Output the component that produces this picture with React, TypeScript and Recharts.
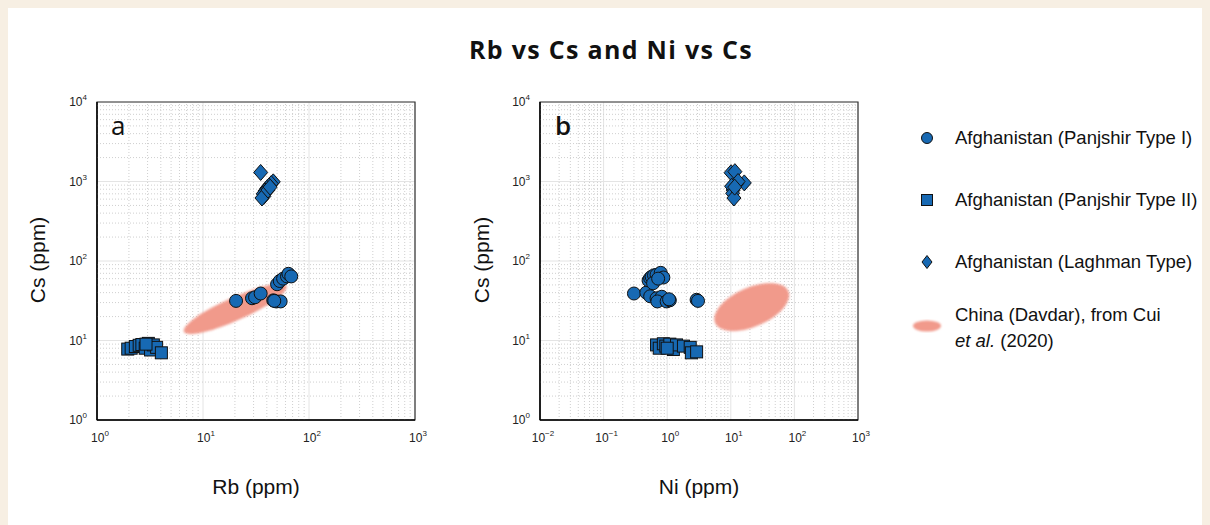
import React from 'react';
import {
  ScatterChart,
  Scatter,
  XAxis,
  YAxis,
  CartesianGrid,
  ReferenceLine,
  ReferenceArea,
} from 'recharts';

const BLUE = '#1769B3';
const EDGE = '#111111';
const SALMON = '#F19A8B';
const FONT = '"Liberation Sans", Arial, sans-serif';

// panel a: Rb (ppm) vs Cs (ppm)
const TYPE1_RB_CS: [number, number][] = [
  [20.5, 31.5], [29, 34], [31, 35], [35, 39], [46, 32], [49, 31], [54, 31],
  [47, 31.5], [50, 51], [53, 56], [57, 60], [62, 64], [64, 69], [68, 64],
];
const TYPE2_RB_CS: [number, number][] = [
  [1.95, 7.8], [2.1, 8.0], [2.3, 8.4], [2.5, 8.7], [2.65, 8.9], [2.85, 8.0],
  [3.05, 9.2], [3.2, 7.6], [3.4, 8.8], [3.65, 8.2], [4.05, 7.0], [2.9, 9.0],
];
const LAGHMAN_RB_CS: [number, number][] = [
  [35, 1300], [46, 990], [44, 940], [42, 880], [40, 820], [38.5, 760],
  [37, 700], [37.5, 650], [36, 620], [41, 780], [43, 850],
];
// Davdar field: major-axis ends, then minor-axis ends
const DAVDAR_RB_CS: [number, number][] = [
  [6.6, 12.9], [61.3, 48.5], [22.3, 18.5], [18.2, 33.9],
];

// panel b: Ni (ppm) vs Cs (ppm)
const TYPE1_NI_CS: [number, number][] = [
  [0.3, 39], [0.47, 40], [0.54, 36], [0.68, 34], [0.82, 35.5], [0.7, 31],
  [0.98, 31], [1.1, 32], [1.07, 33], [2.9, 32.5], [3.05, 31.5], [0.51, 57],
  [0.54, 61], [0.57, 63.5], [0.62, 66], [0.68, 67], [0.79, 71], [0.87, 62],
  [0.6, 52.5], [0.72, 60],
];
const TYPE2_NI_CS: [number, number][] = [
  [0.68, 8.8], [0.75, 8.0], [0.87, 9.1], [0.95, 8.5], [1.1, 9.0], [1.25, 7.7],
  [1.4, 8.8], [1.8, 8.5], [2.3, 8.2], [2.4, 7.0], [2.9, 7.2], [1.0, 8.0],
];
const LAGHMAN_NI_CS: [number, number][] = [
  [10.1, 1290], [11.6, 1330], [16.3, 960], [12.4, 940], [13, 1000],
  [10.9, 780], [10.3, 870], [10.7, 710], [11.2, 620], [11.5, 850],
];
const DAVDAR_NI_CS: [number, number][] = [
  [5.65, 16.6], [80.5, 41.8], [28.3, 15.7], [16.1, 44.4],
];

const CS_TICKS = [1, 10, 100, 1000, 10000];
const RB_TICKS = [1, 10, 100, 1000];
const NI_TICKS = [0.01, 0.1, 1, 10, 100, 1000];

const LEGEND = [
  { kind: 'circle', label: 'Afghanistan (Panjshir Type I)' },
  { kind: 'square', label: 'Afghanistan (Panjshir Type II)' },
  { kind: 'diamond', label: 'Afghanistan (Laghman Type)' },
];

const toPoints = (rows: [number, number][]) => rows.map(([x, y]) => ({ x, y }));

// 2..9 within every decade of the major ticks
const minorsOf = (ticks: number[]) => {
  const out: number[] = [];
  for (let i = 0; i < ticks.length - 1; i++) {
    for (let k = 2; k <= 9; k++) out.push(ticks[i] * k);
  }
  return out;
};

const expLabel = (v: number) => {
  const e = Math.round(Math.log10(v));
  return e < 0 ? `\u2212${-e}` : `${e}`;
};

function YTick({ x, y, payload }: any) {
  return (
    <text x={x - 2} y={y + 4} textAnchor="end" fontFamily={FONT} fontSize={12} fill="#222">
      10<tspan dy={-6} fontSize={8}>{expLabel(payload.value)}</tspan>
    </text>
  );
}

function XTick({ x, y, payload }: any) {
  return (
    <text x={x + 3} y={y + 14} textAnchor="middle" fontFamily={FONT} fontSize={12} fill="#222">
      10<tspan dy={-6} fontSize={8}>{expLabel(payload.value)}</tspan>
    </text>
  );
}

const Dot = ({ cx, cy }: any) => (
  <circle cx={cx} cy={cy} r={6.5} fill={BLUE} stroke={EDGE} strokeWidth={1} />
);
const Square = ({ cx, cy }: any) => (
  <rect x={cx - 6} y={cy - 6} width={12} height={12} fill={BLUE} stroke={EDGE} strokeWidth={1} />
);
const Diamond = ({ cx, cy }: any) => (
  <path
    d={`M${cx},${cy - 8} L${cx + 7},${cy} L${cx},${cy + 8} L${cx - 7},${cy} Z`}
    fill={BLUE}
    stroke={EDGE}
    strokeWidth={1}
  />
);
const Nothing = () => <g />;

// draws the field ellipse from the four scaled axis-end points
const ellipseLine = (id: string) => (props: any) => {
  const pts = props.points;
  if (!pts || pts.length < 4) return <g />;
  const [p1, p2, m1, m2] = pts;
  const cx = (p1.x + p2.x) / 2;
  const cy = (p1.y + p2.y) / 2;
  const dx = p2.x - p1.x;
  const dy = p2.y - p1.y;
  const len = Math.hypot(dx, dy);
  const rx = len / 2;
  const ux = -dy / len;
  const uy = dx / len;
  const ry = Math.abs((m1.x - m2.x) * ux + (m1.y - m2.y) * uy) / 2;
  const ang = (Math.atan2(dy, dx) * 180) / Math.PI;
  return (
    <g>
      <defs>
        <filter id={id} x="-20%" y="-50%" width="140%" height="200%">
          <feGaussianBlur stdDeviation={1.2} />
        </filter>
      </defs>
      <ellipse
        cx={cx}
        cy={cy}
        rx={rx}
        ry={ry}
        fill={SALMON}
        filter={`url(#${id})`}
        transform={`rotate(${ang} ${cx} ${cy})`}
      />
    </g>
  );
};

type PanelProps = {
  id: string;
  xTicks: number[];
  type1: [number, number][];
  type2: [number, number][];
  laghman: [number, number][];
  davdar: [number, number][];
};

function Panel({ id, xTicks, type1, type2, laghman, davdar }: PanelProps) {
  const xDomain: [number, number] = [xTicks[0], xTicks[xTicks.length - 1]];
  const yDomain: [number, number] = [CS_TICKS[0], CS_TICKS[CS_TICKS.length - 1]];
  return (
    <ScatterChart width={440} height={470} margin={{ top: 102, right: 25, bottom: 20, left: 37 }}>
      <CartesianGrid stroke="#e4e4e4" strokeWidth={1} />
      {minorsOf(xTicks).map((v) => (
        <ReferenceLine key={`vx${v}`} x={v} stroke="#cfcfcf" strokeDasharray="1 2" />
      ))}
      {minorsOf(CS_TICKS).map((v) => (
        <ReferenceLine key={`hy${v}`} y={v} stroke="#cfcfcf" strokeDasharray="1 2" />
      ))}
      <XAxis
        type="number"
        dataKey="x"
        scale="log"
        domain={xDomain}
        ticks={xTicks}
        allowDataOverflow
        height={30}
        tickLine={false}
        axisLine={{ stroke: '#000', strokeWidth: 1.5 }}
        tick={<XTick />}
        interval={0}
      />
      <YAxis
        type="number"
        dataKey="y"
        scale="log"
        domain={yDomain}
        ticks={CS_TICKS}
        allowDataOverflow
        width={60}
        tickLine={false}
        axisLine={{ stroke: '#000', strokeWidth: 1.5 }}
        tick={<YTick />}
        interval={0}
      />
      <ReferenceArea
        x1={xDomain[0]}
        x2={xDomain[1]}
        y1={yDomain[0]}
        y2={yDomain[1]}
        fill="none"
        stroke="#333"
        strokeWidth={1.2}
      />
      <Scatter
        data={toPoints(davdar)}
        shape={Nothing}
        line={ellipseLine(`soft-${id}`)}
        isAnimationActive={false}
      />
      <Scatter data={toPoints(type2)} shape={Square} isAnimationActive={false} />
      <Scatter data={toPoints(laghman)} shape={Diamond} isAnimationActive={false} />
      <Scatter data={toPoints(type1)} shape={Dot} isAnimationActive={false} />
    </ScatterChart>
  );
}

function LegendMark({ kind }: { kind: string }) {
  return (
    <svg width={20} height={20} style={{ display: 'block' }}>
      {kind === 'circle' && <circle cx={10} cy={10} r={5.5} fill={BLUE} stroke={EDGE} />}
      {kind === 'square' && <rect x={4.5} y={4.5} width={11} height={11} fill={BLUE} stroke={EDGE} />}
      {kind === 'diamond' && <path d="M10,3.5 L15,10 L10,16.5 L5,10 Z" fill={BLUE} stroke={EDGE} />}
    </svg>
  );
}

export default function App() {
  const abs = (l: number, t: number): React.CSSProperties => ({ position: 'absolute', left: l, top: t });
  const axisTitle: React.CSSProperties = { fontFamily: FONT, fontSize: 21, whiteSpace: 'nowrap', color: '#111' };
  return (
    <div style={{ position: 'absolute', left: 0, top: 0, width: 1210, height: 525, background: '#F7EFE3', overflow: 'hidden' }}>
      <div style={{ position: 'absolute', left: 8, top: 8, right: 8, bottom: 0, background: '#fff' }} />

      <div style={{ ...abs(0, 32), width: 1222, textAlign: 'center', fontFamily: '"Open Sans", sans-serif', fontWeight: 700, fontSize: 25, letterSpacing: 1.3, lineHeight: '34px', color: '#111' }}>
        Rb vs Cs and Ni vs Cs
      </div>

      <div style={abs(0, 0)}>
        <Panel id="a" xTicks={RB_TICKS} type1={TYPE1_RB_CS} type2={TYPE2_RB_CS} laghman={LAGHMAN_RB_CS} davdar={DAVDAR_RB_CS} />
      </div>
      <div style={abs(443, 0)}>
        <Panel id="b" xTicks={NI_TICKS} type1={TYPE1_NI_CS} type2={TYPE2_NI_CS} laghman={LAGHMAN_NI_CS} davdar={DAVDAR_NI_CS} />
      </div>

      <div style={{ ...abs(111, 108), fontFamily: '"Open Sans", sans-serif', fontSize: 26, lineHeight: '34px', color: '#111', fontWeight: 500 }}>a</div>
      <div style={{ ...abs(555, 108), fontFamily: '"Open Sans", sans-serif', fontSize: 26, lineHeight: '34px', color: '#111', fontWeight: 600 }}>b</div>

      <div style={{ ...abs(38, 260), transform: 'translate(-50%, -50%) rotate(-90deg)', ...axisTitle }}>Cs (ppm)</div>
      <div style={{ ...abs(482, 260), transform: 'translate(-50%, -50%) rotate(-90deg)', ...axisTitle }}>Cs (ppm)</div>
      <div style={{ ...abs(256, 487), transform: 'translate(-50%, -50%)', ...axisTitle }}>Rb (ppm)</div>
      <div style={{ ...abs(699, 487), transform: 'translate(-50%, -50%)', ...axisTitle }}>Ni (ppm)</div>

      {LEGEND.map((item, i) => (
        <div key={item.label} style={{ ...abs(917, 127 + i * 62), display: 'flex', alignItems: 'center', fontFamily: FONT, fontSize: 18.5, color: '#111', whiteSpace: 'nowrap' }}>
          <LegendMark kind={item.kind} />
          <span style={{ marginLeft: 18 }}>{item.label}</span>
        </div>
      ))}
      <div style={{ ...abs(911, 318) }}>
        <svg width={34} height={16} style={{ display: 'block' }}>
          <defs>
            <filter id="soft-legend">
              <feGaussianBlur stdDeviation={0.8} />
            </filter>
          </defs>
          <ellipse cx={16} cy={8} rx={14} ry={5.5} fill={SALMON} filter="url(#soft-legend)" />
        </svg>
      </div>
      <div style={{ ...abs(955, 302), fontFamily: FONT, fontSize: 18.5, lineHeight: '26px', color: '#111' }}>
        China (Davdar), from Cui
        <br />
        <i>et al.</i> (2020)
      </div>
    </div>
  );
}
